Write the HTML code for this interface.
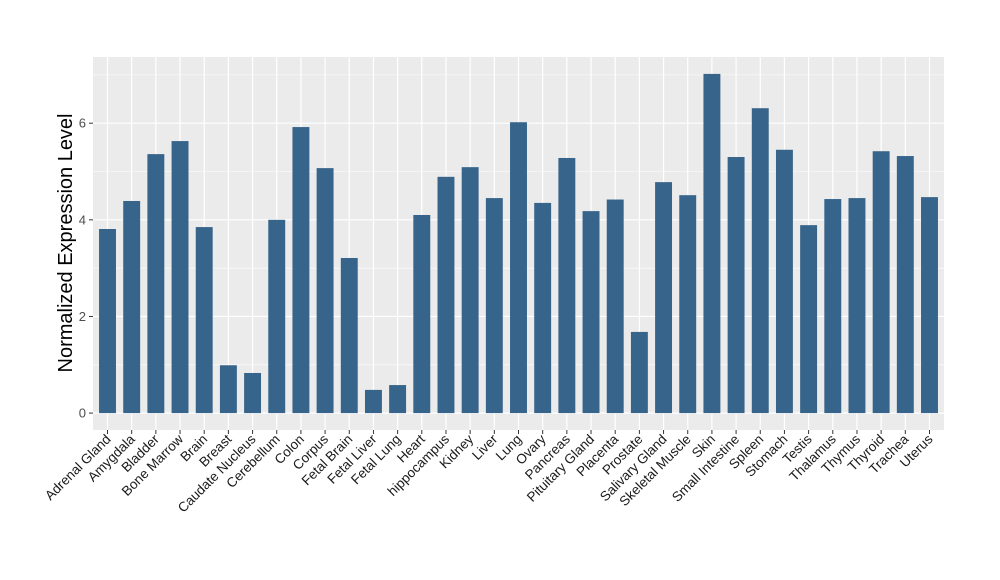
<!DOCTYPE html>
<html><head><meta charset="utf-8"><style>
body{margin:0;background:#fff}
svg{display:block;font-family:"Liberation Sans",Arial,sans-serif}
</style></head><body>
<svg id="chart" width="1000" height="580">
<rect x="93" y="57" width="851" height="373" fill="#ebebeb"/>
<g id="grid"></g><g id="bars"></g><g id="xaxis"></g><g id="yaxis"></g>
<text transform="translate(72,243) rotate(-90)" text-anchor="middle" font-size="20" fill="#000">Normalized Expression Level</text>
</svg>
<script>
const categories=["Adrenal Gland","Amygdala","Bladder","Bone Marrow","Brain","Breast","Caudate Nucleus","Cerebellum","Colon","Corpus","Fetal Brain","Fetal Liver","Fetal Lung","Heart","hippocampus","Kidney","Liver","Lung","Ovary","Pancreas","Pituitary Gland","Placenta","Prostate","Salivary Gland","Skeletal Muscle","Skin","Small Intestine","Spleen","Stomach","Testis","Thalamus","Thymus","Thyroid","Trachea","Uterus"];
const values=[3.81,4.39,5.36,5.63,3.85,0.99,0.83,4.0,5.92,5.07,3.21,0.48,0.58,4.1,4.89,5.09,4.45,6.02,4.35,5.28,4.18,4.42,1.68,4.78,4.51,7.02,5.30,6.31,5.45,3.89,4.43,4.45,5.42,5.32,4.47];
const yTicks=[0,2,4,6];
const NS="http://www.w3.org/2000/svg";
const L=93,R=944,T=57,B=430,ymin=-0.35,ymax=7.37;
const xs=i=>L+(i+0.6)*(R-L)/(categories.length-1+1.2);
const ys=v=>B-(v-ymin)/(ymax-ymin)*(B-T);
const bw=0.7*(R-L)/(categories.length+0.2);
function mk(tag,attrs,parent){const e=document.createElementNS(NS,tag);for(const k in attrs)e.setAttribute(k,attrs[k]);document.getElementById(parent).appendChild(e);return e;}
for(let t=0;t<=7;t++){
  const g=mk('line',{x1:L,x2:R,y1:ys(t),y2:ys(t),stroke:'#fff','stroke-width':t%2?0.6:1.2},'grid');
  
  
}
categories.forEach((c,i)=>{
  const g=mk('line',{x1:xs(i),x2:xs(i),y1:T,y2:B,stroke:'#fff','stroke-width':1.2},'grid');
  
  
  const b=mk('rect',{x:xs(i)-bw/2,y:ys(values[i]),width:bw,height:ys(0)-ys(values[i]),fill:'#37648a'},'bars');
  
  
  const tk=mk('line',{x1:xs(i),x2:xs(i),y1:B,y2:B+4,stroke:'#333','stroke-width':1},'xaxis');
  
  
  const tx=mk('text',{transform:`translate(${xs(i)+4},${B+10}) rotate(-45)`,'text-anchor':'end','font-size':13.5,fill:'#1a1a1a'},'xaxis');
  tx.textContent=c;
  
  
});
yTicks.forEach(v=>{
  const tk=mk('line',{x1:L-4,x2:L,y1:ys(v),y2:ys(v),stroke:'#333','stroke-width':1},'yaxis');
  
  
  const tx=mk('text',{x:L-7,y:ys(v)+4.5,'text-anchor':'end','font-size':13,fill:'#4d4d4d'},'yaxis');
  tx.textContent=v;
  
  
});
</script>
</body></html>
